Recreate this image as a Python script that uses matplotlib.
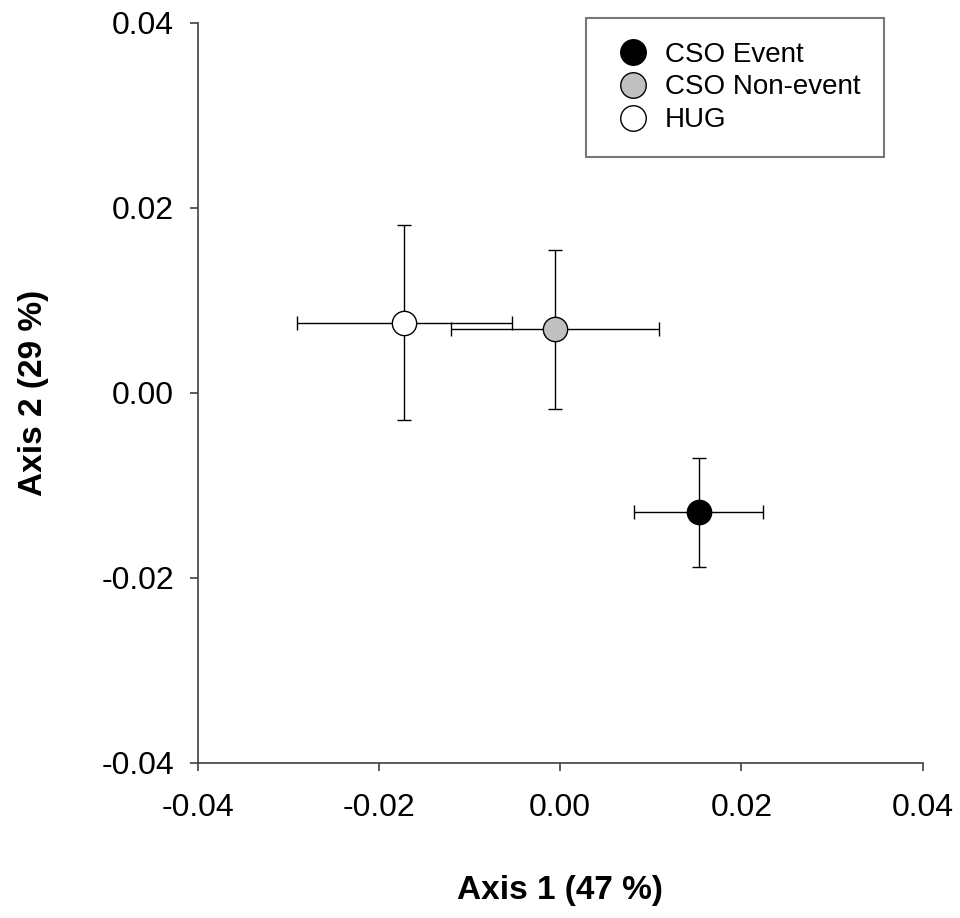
import matplotlib.pyplot as plt
import numpy as np

plt.rcParams['font.family'] = ['Liberation Sans', 'DejaVu Sans']

groups = ["CSO Event", "CSO Non-event", "HUG"]
axis1 = [0.0153, -0.0006, -0.0172]
axis2 = [-0.0129, 0.0069, 0.0076]
axis1_err = [0.0071, 0.0115, 0.0119]
axis2_err = [0.0059, 0.0086, 0.0105]
colors = ["black", "#c0c0c0", "white"]

fig = plt.figure(figsize=(9.6, 9.18), dpi=100)
ax = fig.add_axes([0.206, 0.169, 0.755, 0.806])

for i in range(len(groups)):
    ax.errorbar(axis1[i], axis2[i], xerr=axis1_err[i], yerr=axis2_err[i],
                fmt="none", ecolor="black", elinewidth=1.0, capsize=5, capthick=1.0,
                zorder=2)
    ax.plot(axis1[i], axis2[i], "o", ms=17.5, mfc=colors[i], mec="black", mew=1.0,
            linestyle="none", label=groups[i], zorder=3)

ax.set_xlim(-0.04, 0.04)
ax.set_ylim(-0.04, 0.04)
ticks = np.arange(-0.04, 0.041, 0.02)
labels = ["{:.2f}".format(t) if abs(t) > 1e-9 else "0.00" for t in ticks]
ax.set_xticks(ticks)
ax.set_yticks(ticks)
ax.set_xticklabels(labels)
ax.set_yticklabels(labels)

for side in ["top", "right"]:
    ax.spines[side].set_visible(False)
for side in ["left", "bottom"]:
    ax.spines[side].set_color("#404040")
    ax.spines[side].set_linewidth(1.2)
ax.tick_params(direction="out", length=6, width=1.2, color="#404040",
               labelsize=23)
ax.tick_params(axis="x", pad=16)
ax.tick_params(axis="y", pad=11)

ax.set_xlabel("Axis 1 (47 %)", fontsize=24, fontweight="bold", labelpad=37)
ax.set_ylabel("Axis 2 (29 %)", fontsize=24, fontweight="bold", labelpad=38)

leg = ax.legend(loc="upper right", bbox_to_anchor=(0.9466, 1.0068), fontsize=20,
                frameon=True, fancybox=False, edgecolor="#555555",
                handletextpad=0.3, borderpad=0.85, labelspacing=0.25,
                handlelength=1.7, borderaxespad=0, markerscale=1.05)
leg.get_frame().set_linewidth(1.5)

plt.savefig("out.png", dpi=100)
